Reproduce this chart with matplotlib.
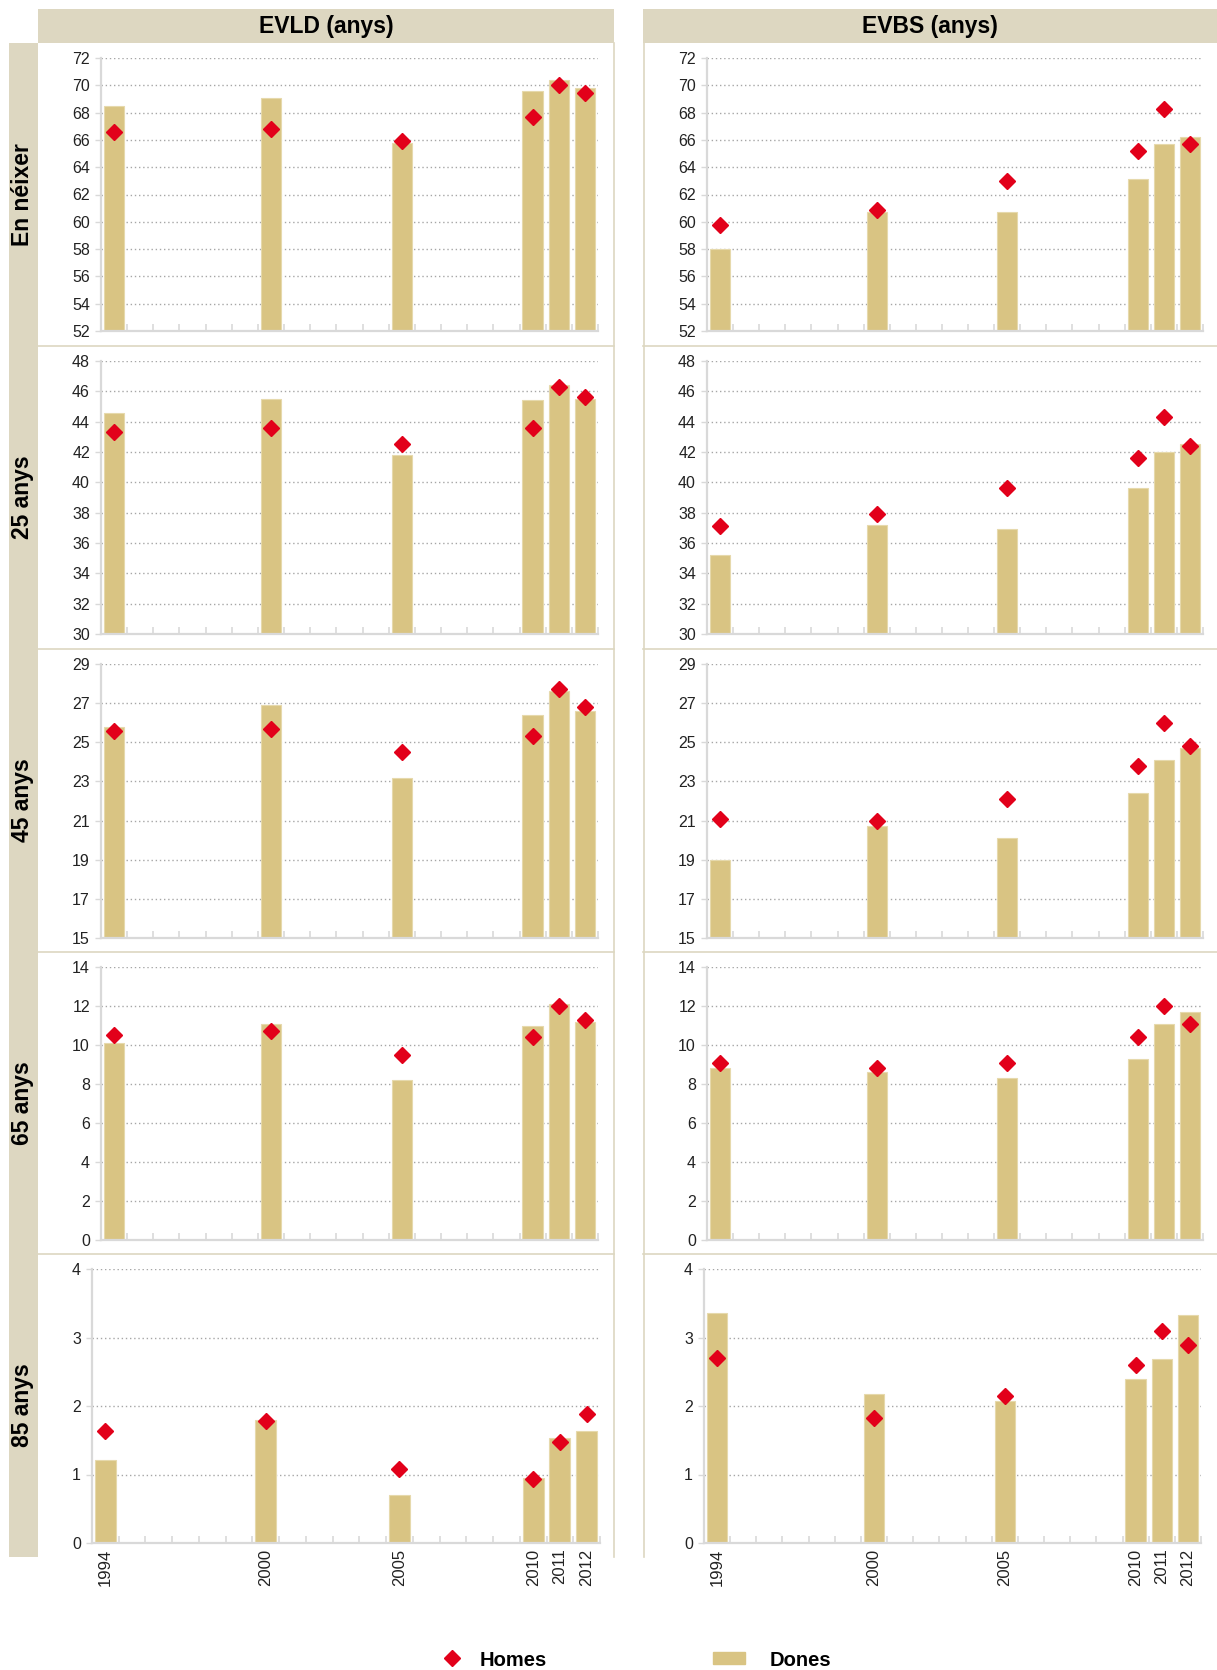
import matplotlib
matplotlib.use("Agg")
import matplotlib.pyplot as plt
from matplotlib.patches import Rectangle
from matplotlib.lines import Line2D

plt.rcParams['font.family'] = ['Liberation Sans', 'DejaVu Sans']

# data
years = [1994, 2000, 2005, 2010, 2011, 2012]
all_years = list(range(1994, 2013))

col_titles = ['EVLD (anys)', 'EVBS (anys)']
row_titles = ['En néixer', '25 anys', '45 anys', '65 anys', '85 anys']

evld_dones = [
    [68.5, 69.1, 65.8, 69.6, 70.4, 69.8],
    [44.6, 45.5, 41.8, 45.4, 46.4, 45.5],
    [25.8, 26.9, 23.2, 26.4, 27.6, 26.6],
    [10.1, 11.1, 8.2, 11.0, 12.1, 11.2],
    [1.21, 1.80, 0.70, 0.95, 1.54, 1.63],
]
evld_homes = [
    [66.6, 66.8, 65.9, 67.7, 70.0, 69.4],
    [43.3, 43.6, 42.5, 43.6, 46.3, 45.6],
    [25.6, 25.7, 24.5, 25.3, 27.7, 26.8],
    [10.5, 10.7, 9.5, 10.4, 12.0, 11.3],
    [1.64, 1.78, 1.08, 0.94, 1.47, 1.88],
]
evbs_dones = [
    [58.0, 60.7, 60.7, 63.1, 65.7, 66.2],
    [35.2, 37.2, 36.9, 39.6, 42.0, 42.5],
    [19.0, 20.7, 20.1, 22.4, 24.1, 24.7],
    [8.8, 8.6, 8.3, 9.3, 11.1, 11.7],
    [3.36, 2.17, 2.08, 2.40, 2.68, 3.33],
]
evbs_homes = [
    [59.8, 60.9, 63.0, 65.2, 68.3, 65.7],
    [37.1, 37.9, 39.6, 41.6, 44.3, 42.4],
    [21.1, 21.0, 22.1, 23.8, 26.0, 24.8],
    [9.1, 8.8, 9.1, 10.4, 12.0, 11.1],
    [2.70, 1.82, 2.14, 2.60, 3.10, 2.89],
]

y_ranges = [(52, 72, 2), (30, 48, 2), (15, 29, 2), (0, 14, 2), (0, 4, 1)]

BAR = '#D9C483'
RED = '#E2001A'
BEIGE = '#DDD7C1'
AXC = '#D9D9D9'

W, H = 1217, 1670
fig = plt.figure(figsize=(W / 100, H / 100), dpi=100)


def fx(px):
    return px / W


def fy(py):
    return 1 - py / H


def rect(x0, y0, x1, y1, **kw):
    fig.patches.append(Rectangle((fx(x0), fy(y1)), fx(x1) - fx(x0), fy(y0) - fy(y1),
                                 transform=fig.transFigure, **kw))


def hline(x0, x1, y, **kw):
    fig.add_artist(Line2D([fx(x0), fx(x1)], [fy(y), fy(y)], transform=fig.transFigure, **kw))


def vline(x, y0, y1, **kw):
    fig.add_artist(Line2D([fx(x), fx(x)], [fy(y0), fy(y1)], transform=fig.transFigure, **kw))


# header bands and row bands
rect(38, 9, 614, 43, color=BEIGE, lw=0)
rect(643, 9, 1217, 43, color=BEIGE, lw=0)
rect(9, 43, 38, 1557, color=BEIGE, lw=0)
fig.text(fx(326), fy(27), col_titles[0], ha='center', va='center', fontsize=16.5, fontweight='bold')
fig.text(fx(930), fy(27), col_titles[1], ha='center', va='center', fontsize=16.5, fontweight='bold')

row_bounds = [43, 346, 649, 952, 1254, 1557]
for i, t in enumerate(row_titles):
    fig.text(fx(23), fy((row_bounds[i] + row_bounds[i + 1]) / 2), t, rotation=90,
             ha='center', va='center', fontsize=16.5, fontweight='bold')

for yb in row_bounds[1:-1]:
    hline(38, 614, yb, color=BEIGE, lw=1.2)
    hline(643, 1217, yb, color=BEIGE, lw=1.2)
vline(614, 43, 1557, color=BEIGE, lw=1.2)
vline(643.5, 43, 1557, color=BEIGE, lw=1.2)

pos = [all_years.index(y) for y in years]

axes_px = {
    0: [(101, 598), (101, 598), (101, 598), (101, 598), (92, 600)],
    1: [(707, 1203), (707, 1203), (707, 1203), (707, 1203), (704, 1201)],
}
axes_top = [58, 361, 664, 967, 1269]
axes_bot = [331, 634, 938, 1240, 1543]

for c, (dones, homes) in enumerate([(evld_dones, evld_homes), (evbs_dones, evbs_homes)]):
    for r in range(5):
        x0, x1 = axes_px[c][r]
        ax = fig.add_axes([fx(x0), fy(axes_bot[r]), fx(x1) - fx(x0), fy(axes_top[r]) - fy(axes_bot[r])])
        lo, hi, st = y_ranges[r]
        ax.bar(pos, dones[r], width=0.78, color=BAR, edgecolor='#E6D9AC', lw=0.8, zorder=2)
        ax.plot(pos, homes[r], 'D', color=RED, ms=8.5, mec=RED, zorder=3, clip_on=False)
        ax.set_xlim(-0.5, len(all_years) - 0.5)
        ax.set_ylim(lo, hi)
        ax.set_yticks(range(lo, hi + 1, st))
        ax.yaxis.grid(True, linestyle=(0, (1, 2)), color='#A6A6A6', lw=1, zorder=0)
        ax.set_axisbelow(True)
        for s in ['top', 'right']:
            ax.spines[s].set_visible(False)
        for s in ['left', 'bottom']:
            ax.spines[s].set_color(AXC)
            ax.spines[s].set_linewidth(1.6)
        ax.tick_params(axis='y', length=4, color=AXC, width=1, labelsize=11.5, labelcolor='#222222', pad=4)
        ax.set_xticks(pos)
        ax.set_xticks([p - 0.5 for p in range(len(all_years) + 1)], minor=True)
        ax.tick_params(axis='x', which='major', length=0, labelsize=12, labelcolor='#222222',
                       rotation=90, pad=4)
        ax.tick_params(axis='x', which='minor', direction='in', length=5, color=AXC, width=1.2)
        if r == 4:
            ax.set_xticklabels([str(y) for y in years])
        else:
            ax.set_xticklabels([])

# legend
h1 = Line2D([], [], marker='D', color=RED, ls='none', ms=8.5)
h2 = Rectangle((0, 0), 1, 1, color=BAR)
fig.legend([h1], ['Homes'], loc='center left', bbox_to_anchor=(fx(436), fy(1660)),
           frameon=False, prop={'weight': 'bold', 'size': 14.5},
           handlelength=1.6, handletextpad=0.55, borderpad=0, borderaxespad=0)
fig.legend([h2], ['Dones'], loc='center left', bbox_to_anchor=(fx(713), fy(1660)),
           frameon=False, prop={'weight': 'bold', 'size': 14.5},
           handlelength=1.6, handleheight=0.55, handletextpad=1.2, borderpad=0, borderaxespad=0)

fig.savefig('out.png', dpi=100, facecolor='white')
